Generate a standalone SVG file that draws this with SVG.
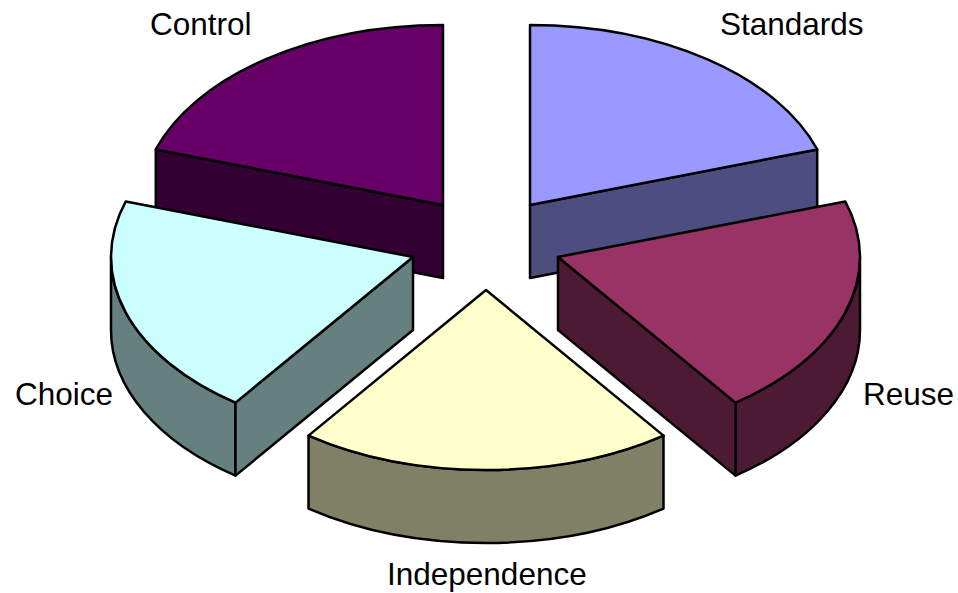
<svg xmlns="http://www.w3.org/2000/svg" width="958" height="593" viewBox="0 0 958 593">
<style>
.f{stroke:#000;stroke-width:2.5;stroke-linejoin:round}
.lbl{font-family:"Liberation Sans",Arial,sans-serif;font-size:31.5px;fill:#000}
</style>
<rect width="958" height="593" fill="#fff"/>
<g id="control">
<path class="f" fill="#330033" d="M155.8,149.4 L443,205 L443,278 L155.8,222.4 Z"/>
<path class="f" fill="#660066" d="M443,205 L155.8,149.4 A302,180 0 0 1 443,25 Z"/>
</g>
<g id="standards">
<path class="f" fill="#4D4D80" d="M530,205 L817.2,149.4 L817.2,222.4 L530,278 Z"/>
<path class="f" fill="#9999FF" d="M530,205 L530,25 A302,180 0 0 1 817.2,149.4 Z"/>
</g>
<g id="choice">
<path class="f" fill="#668080" d="M235.5,402.6 A302,180 0 0 1 111,257 L111,330 A302,180 0 0 0 235.5,475.6 Z"/>
<path class="f" fill="#668080" d="M413,257 L235.5,402.6 L235.5,475.6 L413,330 Z"/>
<path class="f" fill="#CCFFFF" d="M413,257 L235.5,402.6 A302,180 0 0 1 125.8,201.4 Z"/>
</g>
<g id="reuse">
<path class="f" fill="#4D1A33" d="M860,257 A302,180 0 0 1 735.5,402.6 L735.5,475.6 A302,180 0 0 0 860,330 Z"/>
<path class="f" fill="#4D1A33" d="M558,257 L735.5,402.6 L735.5,475.6 L558,330 Z"/>
<path class="f" fill="#993366" d="M558,257 L845.2,201.4 A302,180 0 0 1 735.5,402.6 Z"/>
</g>
<g id="independence">
<path class="f" fill="#808066" d="M663.5,435.6 A302,180 0 0 1 308.5,435.6 L308.5,508.6 A302,180 0 0 0 663.5,508.6 Z"/>
<path class="f" fill="#FFFFCC" d="M486,290 L663.5,435.6 A302,180 0 0 1 308.5,435.6 Z"/>
</g>
<g id="labels">
<text class="lbl" x="150" y="35">Control</text>
<text class="lbl" x="720" y="35">Standards</text>
<text class="lbl" x="15" y="405">Choice</text>
<text class="lbl" x="863" y="405">Reuse</text>
<text class="lbl" x="387" y="585">Independence</text>
</g>
</svg>
